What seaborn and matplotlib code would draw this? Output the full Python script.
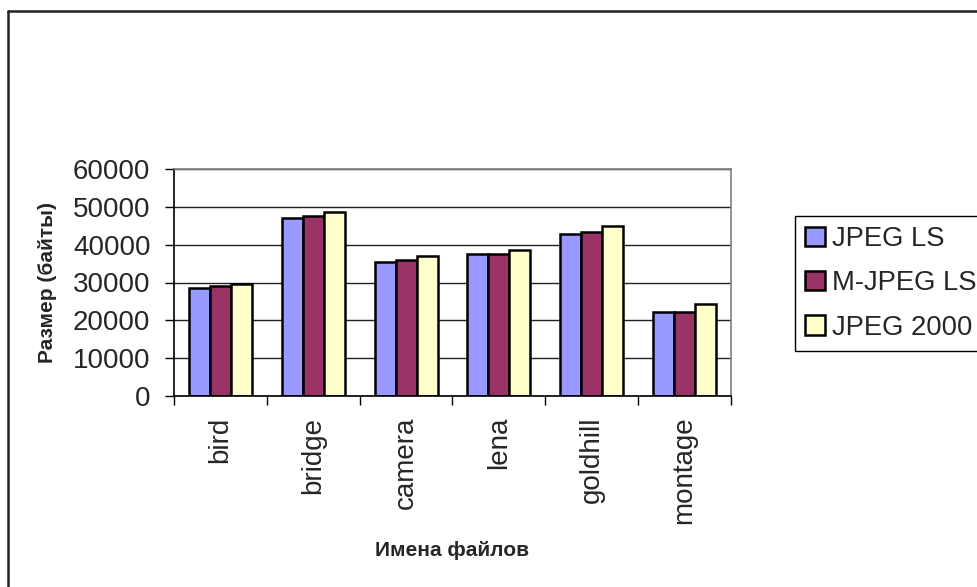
import matplotlib
matplotlib.use("Agg")
import matplotlib.pyplot as plt
from matplotlib.patches import Patch
from matplotlib.lines import Line2D
import pandas as pd
import seaborn as sns

# data
files = ['bird', 'bridge', 'camera', 'lena', 'goldhill', 'montage']
jpeg_ls = [28500, 47100, 35400, 37500, 42800, 22100]
mjpeg_ls = [29000, 47600, 36000, 37500, 43400, 22100]
jpeg2000 = [29600, 48700, 37000, 38700, 45000, 24300]
series = ['JPEG LS', 'M-JPEG LS', 'JPEG 2000']
colors = ['#9999FF', '#993366', '#FFFFCC']
yticks = [0, 10000, 20000, 30000, 40000, 50000, 60000]

# long form table for seaborn
rows = []
for name, vals in zip(series, [jpeg_ls, mjpeg_ls, jpeg2000]):
    for f, v in zip(files, vals):
        rows.append({'file': f, 'codec': name, 'size': v})
df = pd.DataFrame(rows)

sns.set_style('white')
plt.rcParams['font.family'] = ['Liberation Sans', 'DejaVu Sans']

W, H = 978, 587
fig = plt.figure(figsize=(9.78, 5.87), dpi=100)
# plot area in pixels: x 174..731, y 169..396
ax = fig.add_axes([174 / W, 1 - 396 / H, (731 - 174) / W, (396 - 169) / H])

sns.barplot(data=df, x='file', y='size', hue='codec', order=files,
            hue_order=series, palette=colors, width=0.68, gap=0,
            edgecolor='black', linewidth=1.8, saturation=1,
            legend=False, ax=ax)

ax.set_xlim(-0.5, len(files) - 0.5)
ax.set_ylim(0, 60000)
ax.set_axisbelow(True)

# horizontal gridlines
ax.set_yticks(yticks)
ax.yaxis.grid(True, color='#222222', linewidth=1)
ax.xaxis.grid(False)

# y ticks
ax.tick_params(axis='y', direction='out', length=6.5, width=1, color='black',
               labelsize=20, pad=10.5, left=True)

# x: boundary ticks (major) and labels at centers (minor)
ax.set_xticks([i - 0.5 for i in range(len(files) + 1)])
ax.set_xticklabels([])
ax.set_xticks(range(len(files)), minor=True)
ax.set_xticklabels(files, minor=True, rotation=90, fontsize=20)
ax.tick_params(axis='x', which='major', direction='out', length=6.5, width=1,
               color='black', bottom=True)
ax.tick_params(axis='x', which='minor', length=0, pad=15)

for side in ['left', 'bottom']:
    ax.spines[side].set_color('black')
    ax.spines[side].set_linewidth(1.2)
for side in ['top', 'right']:
    ax.spines[side].set_color('#808080')
    ax.spines[side].set_linewidth(1.2)

ax.set_ylabel('Размер (байты)', fontsize=15, fontweight='bold')
ax.yaxis.set_label_coords((48 - 174) / 557, 0.5)
ax.yaxis.label.set_verticalalignment('center')
ax.set_xlabel('Имена файлов', fontsize=15, fontweight='bold')
ax.xaxis.set_label_coords(0.5, (396 - 550) / 227)
ax.xaxis.label.set_verticalalignment('center')

# legend, cut off at the right edge like in the original
handles = [Patch(facecolor=c, edgecolor='black', linewidth=1.8, label=s)
           for c, s in zip(colors, series)]
leg = fig.legend(handles=handles, loc='upper left',
                 bbox_to_anchor=(795 / W, 1 - 216 / H), borderaxespad=0,
                 fontsize=19.7, frameon=True, fancybox=False, framealpha=1,
                 edgecolor='black', borderpad=0.38, labelspacing=0.66,
                 handlelength=0.7, handleheight=0.7, handletextpad=0.28)
leg.get_frame().set_linewidth(1)

# outer chart border (left and top edges visible)
fig.add_artist(Line2D([8 / W, 8 / W], [0, 1 - 11 / H], color='#222222',
                      linewidth=1.8, transform=fig.transFigure))
fig.add_artist(Line2D([8 / W, 1], [1 - 11 / H, 1 - 11 / H], color='#222222',
                      linewidth=1.8, transform=fig.transFigure))

plt.savefig('out.png', dpi=100)
plt.close()
